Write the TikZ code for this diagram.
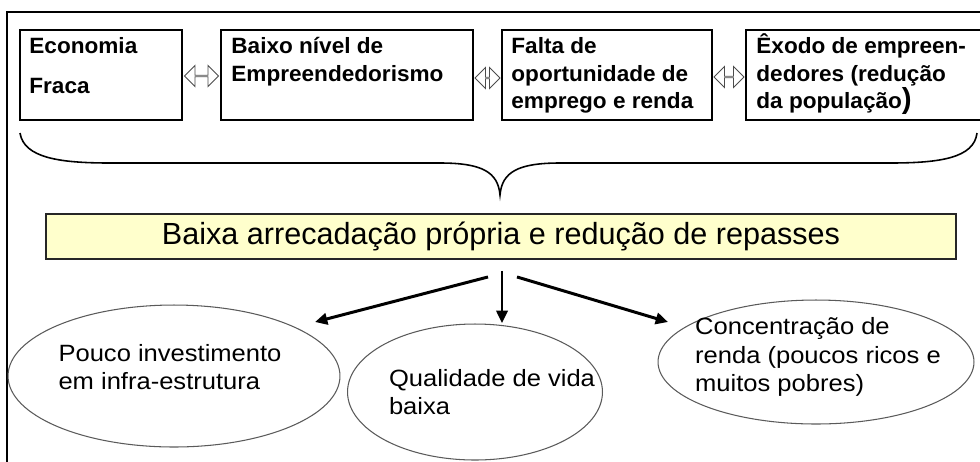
\documentclass[tikz,border=0pt]{standalone}
\usepackage{fontspec}
\setmainfont{Liberation Sans}
\newfontfamily\boxfont[FakeStretch=1.02]{Liberation Sans}
\newfontfamily\ellfont[FakeStretch=1.085]{Liberation Sans}
\usetikzlibrary{arrows.meta,positioning,calc,shapes.geometric,shapes.arrows}
\definecolor{paleyellow}{HTML}{FFFFCC}
\definecolor{ellgray}{HTML}{5A5A5A}
\newcommand{\topstrut}{\rule{0pt}{14pt}}

\begin{document}
\begin{tikzpicture}[x=0.02cm, y=-0.02cm,
  topbox/.style={draw, line width=1.1pt, minimum height=1.8cm, inner sep=0pt},
  boxtext/.style={anchor=north west, inner sep=0pt, align=left,
    font=\boxfont\bfseries\fontsize{12.6}{15.5}\selectfont},
  dblarrow/.style={double arrow, draw=black!70, line width=0.5pt, fill=white,
    inner sep=0pt, minimum width=0.42cm, double arrow head extend=0.11cm},
  bigbox/.style={draw=black!85, line width=1.1pt, fill=paleyellow,
    minimum width=18.2cm, minimum height=0.9cm, font=\fontsize{17.4}{20}\selectfont},
  bubble/.style={ellipse, draw=ellgray, line width=0.6pt, inner sep=0pt},
  bubtext/.style={align=left, inner sep=0pt,
    font=\ellfont\fontsize{13.4}{16.3}\selectfont},
  flow/.style={-{Triangle[length=7pt,width=6.5pt]}, line width=1.7pt}
]
  \useasboundingbox (0,0) rectangle (980,461);
  \clip (0,0) rectangle (980,461);
  % outer frame
  \draw[line width=0.9pt] (7,470) -- (7,12) -- (990,12);

  % top row of causes
  \node[topbox, minimum width=3.24cm] (eco) at (101,75) {};
  \node[topbox, minimum width=5.04cm] (baixo) at (347,75) {};
  \node[topbox, minimum width=4.2cm] (falta) at (607,75) {};
  \node[topbox, minimum width=5.08cm] (exodo) at (873,75) {};
  \node[boxtext] (eco-t) at ([xshift=0.2cm]eco.north west)
    {\topstrut Economia\\[7pt]Fraca};
  \node[boxtext] (baixo-t) at ([xshift=0.22cm]baixo.north west)
    {\topstrut Baixo nível de\\Empreendedorismo};
  \node[boxtext] (falta-t) at ([xshift=0.2cm]falta.north west)
    {\topstrut Falta de\\oportunidade de\\emprego e renda};
  \node[boxtext] (exodo-t) at ([xshift=0.22cm]exodo.north west)
    {\topstrut Êxodo de empreen-\\dedores (redução\\da população{\fontsize{16.5}{15.5}\selectfont)}};
  \node[dblarrow, minimum height=0.68cm] (ar1) at ($(eco.east)!0.5!(baixo.west)+(0,1)$) {};
  \node[dblarrow, minimum height=0.5cm] (ar2) at ($(baixo.east)!0.5!(falta.west)+(0,3)$) {};
  \node[dblarrow, minimum height=0.6cm] (ar3) at ($(falta.east)!0.5!(exodo.west)+(0,2)$) {};

  % brace
  \draw[line width=0.9pt] (20,133) .. controls (24,158) and (60,163) .. (110,163)
    -- (440,163) .. controls (482,163) and (498,172) .. (500,195)
    .. controls (502,172) and (518,163) .. (560,163) -- (890,163)
    .. controls (940,163) and (974,158) .. (977,133);

  % central effect
  \node[bigbox] (arrec) at (501,236.5) {Baixa arrecadação própria e redução de repasses};

  % consequences
  \node[bubble, minimum width=6.64cm, minimum height=2.84cm] (infra) at (174,376) {};
  \node[bubble, minimum width=5.1cm, minimum height=2.72cm] (vida) at (475,392) {};
  \node[bubble, minimum width=6.32cm, minimum height=2.48cm] (renda) at (816,362) {};
  \node[bubtext] (infra-t) at (170,367) {Pouco investimento\\em infra-estrutura};
  \node[bubtext] (vida-t) at (492,392) {Qualidade de vida\\baixa};
  \node[bubtext] (renda-t) at (818,357) {Concentração de\\renda (poucos ricos e\\muitos pobres)};

  \coordinate (tipL) at (315,322);
  \coordinate (tipM) at (502,323);
  \coordinate (tipR) at (668,322);
  \draw[flow] ($(arrec.south)+(-13,17)$) -- (tipL);
  \draw[flow, line width=1.2pt] ($(arrec.south)+(1,11)$) -- (tipM);
  \draw[flow] ($(arrec.south)+(16,17)$) -- (tipR);
\end{tikzpicture}
\end{document}
